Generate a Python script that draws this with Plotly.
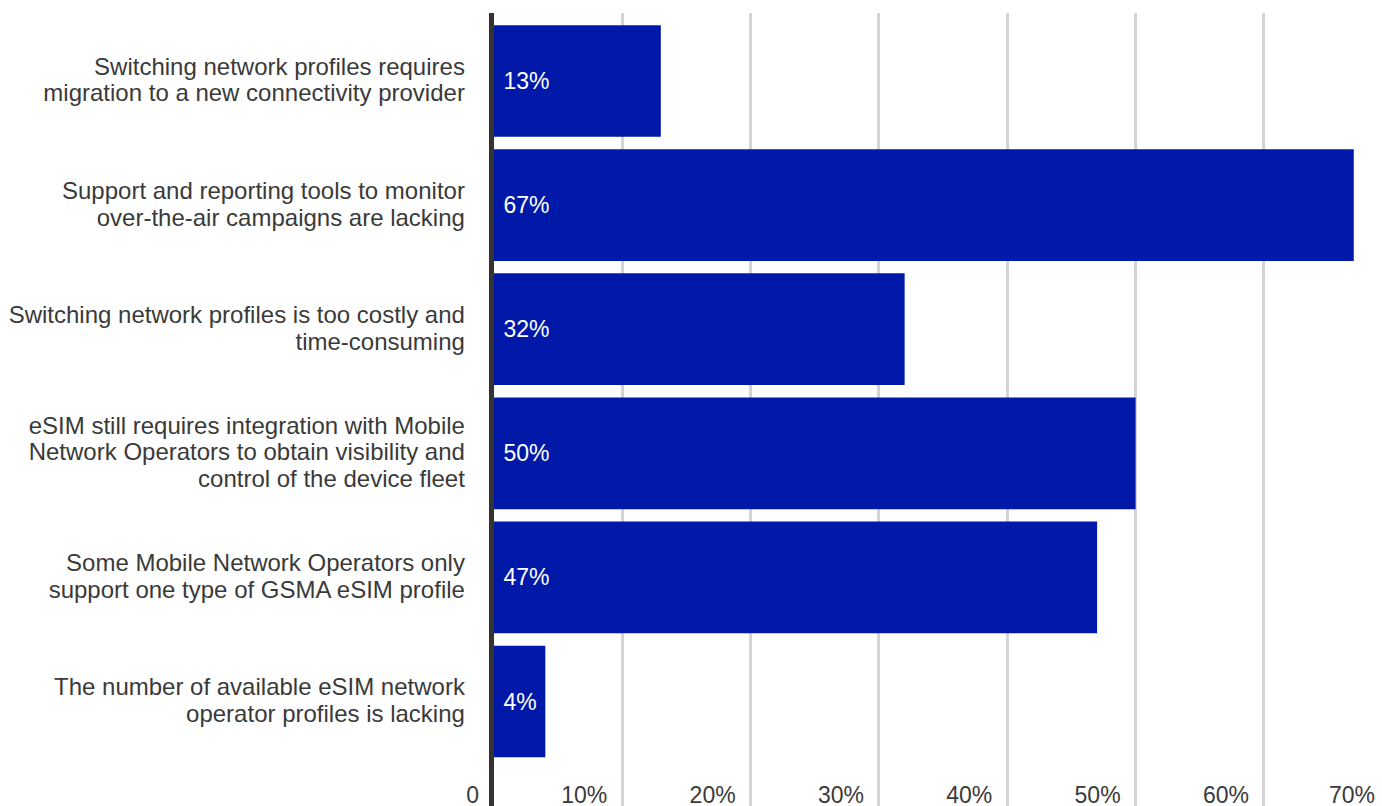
import plotly.graph_objects as go

# Survey responses: share of respondents citing each eSIM challenge (%)
categories = [
    "Switching network profiles requires<br>migration to a new connectivity provider",
    "Support and reporting tools to monitor<br>over-the-air campaigns are lacking",
    "Switching network profiles is too costly and<br>time-consuming",
    "eSIM still requires integration with Mobile<br>Network Operators to obtain visibility and<br>control of the device fleet",
    "Some Mobile Network Operators only<br>support one type of GSMA eSIM profile",
    "The number of available eSIM network<br>operator profiles is lacking",
]
values = [13, 67, 32, 50, 47, 4]

tick_values = [0, 10, 20, 30, 40, 50, 60]
tick_labels = ["0", "10%", "20%", "30%", "40%", "50%", "60%"]
last_tick_label = "70%"

FONT = "Liberation Sans, Arial, sans-serif"
TEXT_COLOR = "#3a3a3a"
BAR_COLOR = "#0019A8"
LABEL_SIZE = 24      # glyph size of the category labels
LINE_BASE = 20.5     # em base that sets the line spacing of wrapped labels
NUM_SIZE = 23        # value and axis number size

# Larger glyphs inside a span keep the wrapped lines tightly spaced
label_text = [f'<span style="font-size:{LABEL_SIZE}px">{c}</span>' for c in categories]
value_text = [f"{v}%" for v in values]

fig = go.Figure(
    go.Bar(
        x=values,
        y=label_text,
        orientation="h",
        marker=dict(color=BAR_COLOR, line=dict(width=0)),
        text=value_text,
        texttemplate="\u00a0%{text}",
        textposition="inside",
        insidetextanchor="start",
        textangle=0,
        textfont=dict(family=FONT, size=NUM_SIZE, color="white"),
        hoverinfo="skip",
    )
)

fig.update_layout(
    width=1382,
    height=806,
    margin=dict(l=494, r=0, t=13, b=0),
    paper_bgcolor="white",
    plot_bgcolor="white",
    bargap=0.1,
    showlegend=False,
    font=dict(family=FONT, size=20, color=TEXT_COLOR),
)

fig.update_xaxes(
    range=[0, 69.2],
    tickvals=tick_values,
    ticktext=tick_labels,
    showgrid=True,
    gridcolor="#d4d4d4",
    gridwidth=3,
    zeroline=False,
    showline=False,
    ticks="",
    ticklabelposition="inside left",
    ticklabelshift=-15,
    ticklabelstandoff=-8,
    ticklabeloverflow="allow",
    tickfont=dict(family=FONT, size=NUM_SIZE, color=TEXT_COLOR),
    automargin=False,
)

fig.update_yaxes(
    type="category",
    range=[5.842, -0.548],
    showgrid=False,
    zeroline=False,
    showline=True,
    linecolor="#333333",
    linewidth=5,
    ticks="",
    ticklabelstandoff=20,
    tickfont=dict(family=FONT, size=LINE_BASE, color=TEXT_COLOR),
    automargin=False,
)

# The 70% gridline falls just past the right edge; its label is kept in view
fig.add_annotation(
    text=last_tick_label,
    xref="paper",
    yref="paper",
    x=1,
    y=0,
    xanchor="right",
    yanchor="bottom",
    xshift=-5,
    yshift=-4,
    showarrow=False,
    font=dict(family=FONT, size=NUM_SIZE, color=TEXT_COLOR),
)

fig.write_html("out.html")
